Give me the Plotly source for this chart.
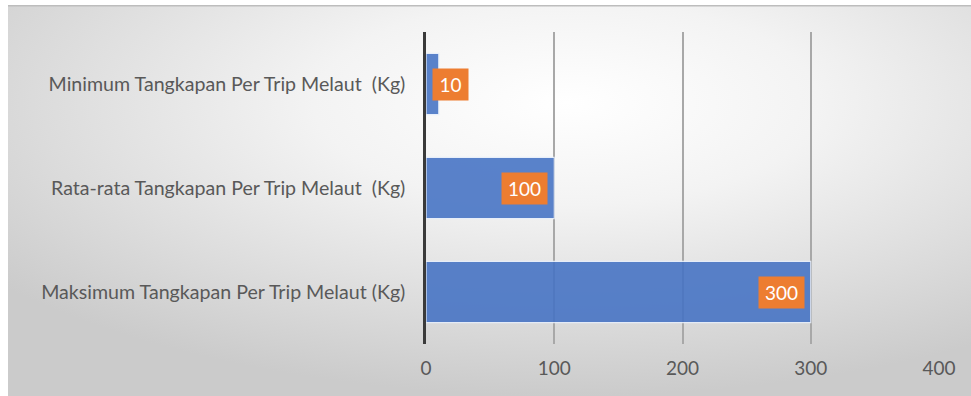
import base64
import plotly.graph_objects as go

# Catch per sea trip (kg), listed top to bottom
categories = [
    "Minimum Tangkapan Per Trip Melaut  (Kg)",
    "Rata-rata Tangkapan Per Trip Melaut  (Kg)",
    "Maksimum Tangkapan Per Trip Melaut (Kg)",
]
values = [10, 100, 300]
x_ticks = [0, 100, 200, 300, 400]

W, H = 971, 396
L, R, T, B = 426, 32, 32, 52
pw, ph = W - L - R, H - T - B

FONT = "Lato"
GREY_TEXT = "#595959"

# soft radial backdrop for the chart panel
svg = """<svg xmlns='http://www.w3.org/2000/svg' width='963' height='391' viewBox='0 0 963 391' preserveAspectRatio='none'>
<defs><radialGradient id='g' cx='0.58' cy='0.25' r='0.75' fx='0.58' fy='0.25'>
<stop offset='0' stop-color='#ffffff'/><stop offset='0.35' stop-color='#f3f3f3'/>
<stop offset='1' stop-color='#cbcbcb'/></radialGradient></defs>
<rect x='0' y='0' width='963' height='391' fill='url(#g)'/>
<rect x='0' y='0' width='963' height='1.5' fill='#bdbdbd'/>
</svg>"""
bg_src = "data:image/svg+xml;base64," + base64.b64encode(svg.encode()).decode()

fig = go.Figure()
fig.add_trace(go.Bar(
    y=categories,
    x=values,
    orientation="h",
    marker=dict(color="#4472C4", line=dict(color="#e6eefb", width=1.2)),
    opacity=0.88,
    hoverinfo="skip",
))

# value labels in orange boxes near the bar ends
for cat, v in zip(categories, values):
    txt = str(v)
    w = int(len(txt) * 10.5 + 10)
    fits = v >= 50
    fig.add_annotation(
        x=v, y=cat, xref="x", yref="y",
        text=txt, showarrow=False,
        xanchor="right" if fits else "left",
        xshift=-6 if fits else -7,
        bgcolor="#ED7D31",
        font=dict(family=FONT, size=19, color="#ffffff"),
        width=w, height=27, borderpad=2,
    )

fig.add_layout_image(
    source=bg_src, xref="paper", yref="paper",
    x=(8 - L) / pw, y=(H - B - 5) / ph,
    sizex=963 / pw, sizey=391 / ph,
    sizing="stretch", xanchor="left", yanchor="top", layer="below",
)

fig.update_layout(
    width=W, height=H,
    margin=dict(l=L, r=R, t=T, b=B, pad=0),
    paper_bgcolor="#ffffff",
    plot_bgcolor="rgba(0,0,0,0)",
    showlegend=False,
    bargap=0.41,
    font=dict(family=FONT, color=GREY_TEXT),
    xaxis=dict(
        range=[0, 400], tickvals=x_ticks,
        showgrid=True, gridcolor="#a8a8a8", gridwidth=1.5,
        zeroline=False, showline=False,
        tickfont=dict(family=FONT, size=19, color=GREY_TEXT),
        ticks="", ticklabelstandoff=11,
        automargin=False, fixedrange=True,
    ),
    yaxis=dict(
        autorange="reversed",
        showgrid=False, zeroline=False,
        showline=True, linecolor="#3a3a3a", linewidth=2.5,
        tickfont=dict(family=FONT, size=19.6, color=GREY_TEXT),
        ticks="", ticklabelstandoff=14,
        automargin=False, fixedrange=True,
    ),
)

fig.write_html("out.html", config={"displayModeBar": False})
